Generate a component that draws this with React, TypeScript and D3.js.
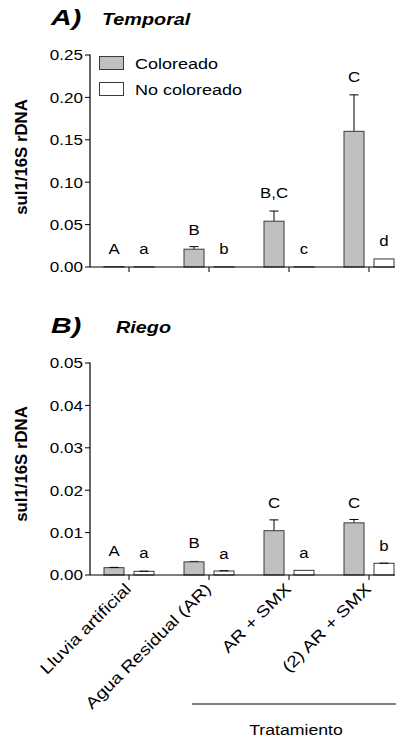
import React from "react";
import * as d3 from "d3";

const categories = ["Lluvia artificial", "Agua Residual (AR)", "AR + SMX", "(2) AR + SMX"];
const seriesNames = ["Coloreado", "No coloreado"];

// Panel A – Temporal
const tempColoreado = [0.0003, 0.021, 0.054, 0.160];
const tempColoreadoErr = [0.0003, 0.024, 0.066, 0.203];
const tempNoColoreado = [0.0002, 0.0002, 0.0002, 0.0095];
const tempNoColoreadoErr = [0.0002, 0.0002, 0.0002, 0.0095];
const tempLettersCol = ["A", "B", "B,C", "C"];
const tempLettersNo = ["a", "b", "c", "d"];
const tempLetterPosCol = [0.0153, 0.0377, 0.0814, 0.218];
const tempLetterPosNo = [0.0153, 0.0153, 0.015, 0.0248];
const tempTicks = [0, 0.05, 0.1, 0.15, 0.2, 0.25];

// Panel B – Riego
const riegoColoreado = [0.00173, 0.0031, 0.01045, 0.0123];
const riegoColoreadoErr = [0.0018, 0.0032, 0.013, 0.0131];
const riegoNoColoreado = [0.00087, 0.00094, 0.0011, 0.00276];
const riegoNoColoreadoErr = [0.0009, 0.001, 0.0011, 0.0028];
const riegoLettersCol = ["A", "B", "C", "C"];
const riegoLettersNo = ["a", "a", "a", "b"];
const riegoLetterPosCol = [0.0045, 0.0064, 0.0158, 0.0158];
const riegoLetterPosNo = [0.0039, 0.0038, 0.004, 0.0057];
const riegoTicks = [0, 0.01, 0.02, 0.03, 0.04, 0.05];

const FONT = "'Liberation Sans', Arial, Helvetica, sans-serif";
const GRAY = "#c0c0c0";
const STROKE = "#3a3a3a";

function T({ x, y, sx = 1, rot = 0, anchor = "start", size = 14, weight = "normal", italic = false, children }: any) {
  return (
    <text
      transform={`translate(${x},${y}) rotate(${rot}) scale(${sx},1)`}
      textAnchor={anchor}
      fontSize={size}
      fontWeight={weight}
      fontStyle={italic ? "italic" : "normal"}
      fontFamily={FONT}
      fill="#000"
    >
      {children}
    </text>
  );
}

const xScale = d3.scaleBand<string>().domain(categories).range([89, 409]).paddingInner(0).paddingOuter(0);
const cx = (c: string) => (xScale(c) as number) + xScale.bandwidth() / 2;
const BAR_W = 20;

function Panel({ y0, y1, max, ticks, col, colErr, no, noErr, lettersCol, lettersNo, posCol, posNo, tickFmt, labelY }: any) {
  const y = d3.scaleLinear().domain([0, max]).range([y0, y1]);
  const axisX = 90;
  const fmt = d3.format(tickFmt);
  return (
    <g>
      {/* bars */}
      {categories.map((c, i) => {
        const gx = cx(c) - 15 - BAR_W / 2;
        const wx = cx(c) + 15 - BAR_W / 2;
        const gErrX = cx(c) - 15;
        const wErrX = cx(c) + 15;
        return (
          <g key={c}>
            {colErr[i] > col[i] + max * 0.002 && (
              <g stroke="#000" strokeWidth={1}>
                <line x1={gErrX} x2={gErrX} y1={y(col[i])} y2={y(colErr[i])} />
                <line x1={gErrX - 4.5} x2={gErrX + 4.5} y1={y(colErr[i])} y2={y(colErr[i])} />
              </g>
            )}
            {noErr[i] > no[i] + max * 0.002 && (
              <g stroke="#000" strokeWidth={1}>
                <line x1={wErrX} x2={wErrX} y1={y(no[i])} y2={y(noErr[i])} />
                <line x1={wErrX - 4.5} x2={wErrX + 4.5} y1={y(noErr[i])} y2={y(noErr[i])} />
              </g>
            )}
            <rect x={gx} width={BAR_W} y={y(col[i])} height={y0 - y(col[i])} fill={GRAY} stroke={STROKE} strokeWidth={1} />
            <rect x={wx} width={BAR_W} y={y(no[i])} height={y0 - y(no[i])} fill="#fff" stroke={STROKE} strokeWidth={1} />
            {colErr[i] > col[i] && colErr[i] - col[i] <= max * 0.002 && col[i] > max * 0.01 && (
              <line x1={gErrX - 4.5} x2={gErrX + 4.5} y1={y(colErr[i])} y2={y(colErr[i])} stroke="#000" />
            )}
            {noErr[i] > no[i] && noErr[i] - no[i] <= max * 0.002 && no[i] > max * 0.01 && (
              <line x1={wErrX - 4.5} x2={wErrX + 4.5} y1={y(noErr[i])} y2={y(noErr[i])} stroke="#000" />
            )}
            <T x={gErrX} y={y(posCol[i])} anchor="middle" size={15} sx={1.12}>{lettersCol[i]}</T>
            <T x={wErrX} y={y(posNo[i])} anchor="middle" size={15} sx={1.12}>{lettersNo[i]}</T>
          </g>
        );
      })}
      {/* y axis */}
      <line x1={axisX} x2={axisX} y1={y(max) - 0.5} y2={y0} stroke="#000" strokeWidth={1.2} />
      {ticks.map((t: number) => (
        <g key={t}>
          <line x1={axisX - 5} x2={axisX} y1={y(t)} y2={y(t)} stroke="#000" strokeWidth={1} />
          <T x={83} y={y(t) + 5.3} anchor="end" size={14} sx={1.22}>{fmt(t)}</T>
        </g>
      ))}
      {/* x axis */}
      <line x1={axisX} x2={395} y1={y0} y2={y0} stroke="#000" strokeWidth={1.2} />
      {categories.map((c) => (
        <line key={c} x1={cx(c)} x2={cx(c)} y1={y0} y2={y0 + 5} stroke="#000" strokeWidth={1} />
      ))}
      <T x={27} y={labelY} rot={-90} anchor="middle" size={16} weight="bold" sx={1.05}>sul1/16S rDNA</T>
    </g>
  );
}

export default function App() {
  return (
    <svg width={402} height={740} style={{ position: "absolute", left: 0, top: 0, background: "#fff" }}>
      <rect width={402} height={740} fill="#fff" />
      {/* Titles */}
      <T x={51} y={25} size={22} weight="bold" italic sx={1.3}>A)</T>
      <T x={102} y={25} size={16.5} weight="bold" italic sx={1.2}>Temporal</T>
      <T x={51} y={333} size={22} weight="bold" italic sx={1.3}>B)</T>
      <T x={116} y={333} size={16.5} weight="bold" italic sx={1.2}>Riego</T>

      <Panel
        y0={267} y1={55} max={0.25} ticks={tempTicks}
        col={tempColoreado} colErr={tempColoreadoErr} no={tempNoColoreado} noErr={tempNoColoreadoErr}
        lettersCol={tempLettersCol} lettersNo={tempLettersNo} posCol={tempLetterPosCol} posNo={tempLetterPosNo}
        tickFmt=".2f" labelY={157}
      />
      <Panel
        y0={575} y1={363} max={0.05} ticks={riegoTicks}
        col={riegoColoreado} colErr={riegoColoreadoErr} no={riegoNoColoreado} noErr={riegoNoColoreadoErr}
        lettersCol={riegoLettersCol} lettersNo={riegoLettersNo} posCol={riegoLetterPosCol} posNo={riegoLetterPosNo}
        tickFmt=".2f" labelY={464}
      />

      {/* Legend */}
      <rect x={99.5} y={56.5} width={24} height={13} fill={GRAY} stroke={STROKE} />
      <T x={135} y={68.5} size={15} sx={1.2}>{seriesNames[0]}</T>
      <rect x={99.5} y={82.5} width={24} height={13} fill="#fff" stroke={STROKE} />
      <T x={135} y={94.5} size={15} sx={1.2}>{seriesNames[1]}</T>

      {/* x category labels */}
      {categories.map((c) => (
        <T key={c} x={cx(c) + 3} y={590} rot={-45} anchor="end" size={16} sx={1.2}>{c}</T>
      ))}

      <line x1={192} x2={396} y1={704} y2={704} stroke="#000" strokeWidth={1} />
      <T x={296} y={735} anchor="middle" size={15} sx={1.18}>Tratamiento</T>
    </svg>
  );
}
